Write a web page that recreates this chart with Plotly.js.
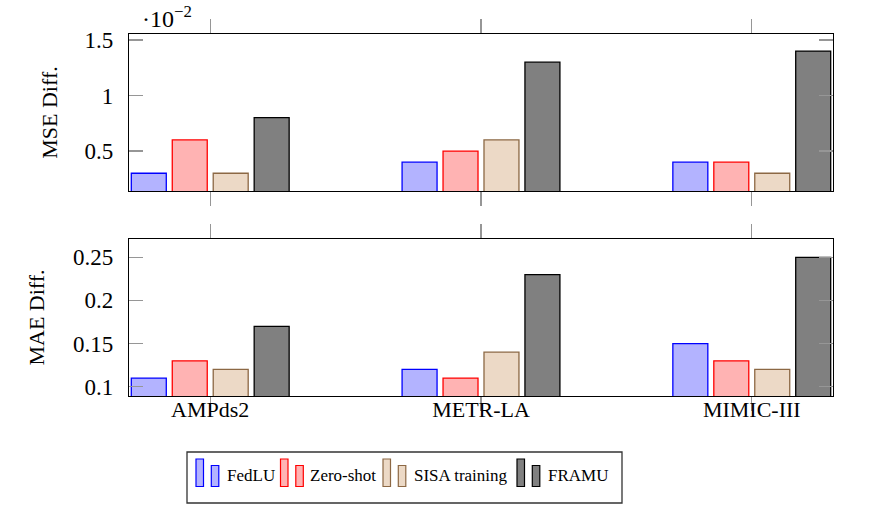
<!DOCTYPE html>
<html>
<head>
<meta charset="utf-8">
<script src="https://cdn.plot.ly/plotly-3.0.1.min.js"></script>
<style>html,body{margin:0;padding:0;background:#fff}#chart{width:886px;height:513px}</style>
</head>
<body>
<div id="chart"></div>
<script>
const categories = ["AMPds2", "METR-LA", "MIMIC-III"];
const seriesNames = ["FedLU", "Zero-shot", "SISA training", "FRAMU"];
// MSE Diff. values (in units of 10^-2)
const mseFedLU = [0.3, 0.4, 0.4];
const mseZeroShot = [0.6, 0.5, 0.4];
const mseSISA = [0.3, 0.6, 0.3];
const mseFRAMU = [0.8, 1.3, 1.4];
// MAE Diff. values
const maeFedLU = [0.11, 0.12, 0.15];
const maeZeroShot = [0.13, 0.11, 0.13];
const maeSISA = [0.12, 0.14, 0.12];
const maeFRAMU = [0.17, 0.23, 0.25];
const mseTicks = [0.5, 1, 1.5];
const mseTickText = ["0.5", "1", "1.5"];
const maeTicks = [0.1, 0.15, 0.2, 0.25];
const maeTickText = ["0.1", "0.15", "0.2", "0.25"];

const fills = ["rgb(179,179,255)", "rgb(255,179,179)", "rgb(236,217,198)", "rgb(128,128,128)"];
const lines = ["rgb(0,0,255)", "rgb(255,0,0)", "rgb(140,104,68)", "rgb(0,0,0)"];
const mse = [mseFedLU, mseZeroShot, mseSISA, mseFRAMU];
const mae = [maeFedLU, maeZeroShot, maeSISA, maeFRAMU];

const traces = [];
for (let i = 0; i < 4; i++) {
  traces.push({type: "bar", x: categories, y: mse[i], name: seriesNames[i], xaxis: "x", yaxis: "y",
    marker: {color: fills[i], line: {color: lines[i], width: 1.3}}});
}
for (let i = 0; i < 4; i++) {
  traces.push({type: "bar", x: categories, y: mae[i], name: seriesNames[i], xaxis: "x2", yaxis: "y2",
    marker: {color: fills[i], line: {color: lines[i], width: 1.3}}});
}

const serif = "Liberation Serif, Times New Roman, serif";
const tickFont = {family: serif, size: 23, color: "#000"};
const commonX = {
  type: "category", range: [-0.3, 2.3], showline: true, linecolor: "#000", linewidth: 1.2,
  mirror: "ticks", ticks: "outside", ticklen: 14, tickcolor: "rgb(150,150,150)", tickwidth: 1.2,
  showgrid: false, zeroline: false, fixedrange: true
};
const commonY = {
  showline: true, linecolor: "#000", linewidth: 1.2, mirror: "ticks", ticks: "inside", ticklen: 14,
  tickcolor: "rgb(150,150,150)", tickwidth: 1.2, showgrid: false, zeroline: false, tickmode: "array",
  tickfont: tickFont, ticklabelstandoff: 10
};

// pixel -> paper helpers for the hand-built legend (plot area: x 129..833, y 34..396)
const M = {l: 129, r: 53, t: 34, b: 117};
const W = 886, H = 513;
const pw = W - M.l - M.r, ph = H - M.t - M.b;
const px = v => (v - M.l) / pw;
const py = v => (H - M.b - v) / ph;

const shapes = [];
const annotations = [];
// legend frame
shapes.push({type: "rect", xref: "paper", yref: "paper", x0: px(187), x1: px(622), y0: py(503), y1: py(452),
  line: {color: "#333", width: 1.3}, fillcolor: "#fff", layer: "above"});
// legend entries: icon pair start x, text start x
const entryIconX = [196, 280.5, 383, 517];
const entryTextX = [225, 308, 412, 546];
for (let i = 0; i < 4; i++) {
  const x0 = entryIconX[i];
  shapes.push({type: "rect", xref: "paper", yref: "paper", x0: px(x0), x1: px(x0 + 7.5), y0: py(486.5), y1: py(459),
    fillcolor: fills[i], line: {color: lines[i], width: 1.2}, layer: "above"});
  shapes.push({type: "rect", xref: "paper", yref: "paper", x0: px(x0 + 15.3), x1: px(x0 + 22.8), y0: py(486.5), y1: py(465.5),
    fillcolor: fills[i], line: {color: lines[i], width: 1.2}, layer: "above"});
  annotations.push({xref: "paper", yref: "paper", x: px(entryTextX[i]), y: py(476), xanchor: "left", yanchor: "middle",
    text: seriesNames[i], showarrow: false, font: {family: serif, size: 17, color: "#000"}});
}
annotations.push({
  xref: "paper", yref: "paper", x: px(140), y: 1.0, xanchor: "left", yanchor: "bottom", yshift: 0,
  text: "·10<sup>−2</sup>", showarrow: false, font: {family: serif, size: 24, color: "#000"}
});

const layout = {
  width: W, height: H,
  margin: M,
  paper_bgcolor: "#fff", plot_bgcolor: "#fff",
  barmode: "group", bargap: 0.395, bargroupgap: 0.146,
  font: {family: serif, color: "#000"},
  showlegend: false,
  xaxis: Object.assign({}, commonX, {anchor: "y", showticklabels: false}),
  yaxis: Object.assign({}, commonY, {domain: [0.5663, 1], range: [0.14, 1.554], tickvals: mseTicks, ticktext: mseTickText,
    title: {text: "MSE Diff.", font: {family: serif, size: 22, color: "#000"}, standoff: 20}}),
  xaxis2: Object.assign({}, commonX, {anchor: "y2", tickfont: {family: serif, size: 22, color: "#000"}, ticklabelstandoff: -21}),
  yaxis2: Object.assign({}, commonY, {domain: [0, 0.4337], range: [0.0892, 0.2712], tickvals: maeTicks, ticktext: maeTickText,
    title: {text: "MAE Diff.", font: {family: serif, size: 22, color: "#000"}, standoff: 22}}),
  shapes: shapes,
  annotations: annotations
};

Plotly.newPlot("chart", traces, layout, {displayModeBar: false, staticPlot: true});
</script>
</body>
</html>
